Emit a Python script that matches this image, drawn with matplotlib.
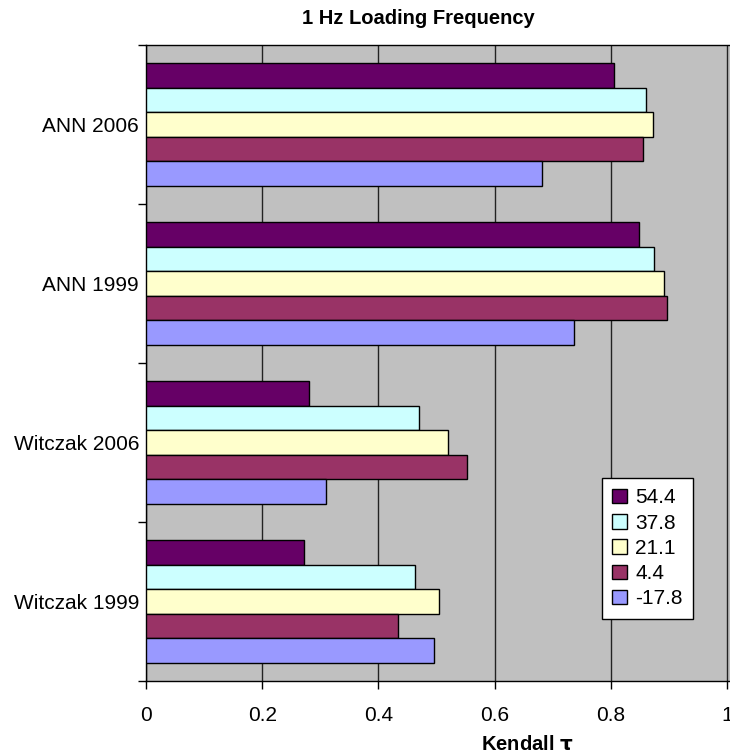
import numpy as np
import matplotlib
matplotlib.use("Agg")
from matplotlib import pyplot as plt

plt.rcParams['font.family'] = ['Liberation Sans', 'DejaVu Sans']

# data
models = ["Witczak 1999", "Witczak 2006", "ANN 1999", "ANN 2006"]
temps = ["54.4", "37.8", "21.1", "4.4", "-17.8"]
colors = ["#660066", "#CCFFFF", "#FFFFCC", "#993366", "#9999FF"]
t_544 = [0.272, 0.281, 0.849, 0.806]
t_378 = [0.463, 0.470, 0.875, 0.860]
t_211 = [0.505, 0.519, 0.892, 0.873]
t_44 = [0.433, 0.553, 0.896, 0.856]
t_m178 = [0.495, 0.310, 0.736, 0.681]
series = [t_544, t_378, t_211, t_44, t_m178]

fig = plt.figure(figsize=(7.3, 7.55), dpi=100)
ax = fig.add_axes([146/730, 1-681/755, 584/730, 636/755])
ax.set_facecolor("#C0C0C0")

y = np.arange(len(models))
h = 0.1535
for i, (vals, c, lab) in enumerate(zip(series, colors, temps)):
    off = (2 - i) * h
    ax.barh(y + off, vals, height=h, color=c, edgecolor="black", linewidth=1,
            label=lab, zorder=3)

ax.set_xlim(0, 584/581)
ax.set_ylim(-0.5, len(models) - 0.5)
ax.set_xticks(np.arange(0, 1.01, 0.2))
ax.set_xticklabels(["0", "0.2", "0.4", "0.6", "0.8", "1"])
ax.set_yticks(y)
ax.set_yticklabels(models)
ax.set_yticks(np.arange(-0.5, len(models), 1), minor=True)
ax.tick_params(axis="y", which="major", length=0, pad=5, labelsize=15)
ax.tick_params(axis="y", which="minor", length=6, direction="out", width=1)
ax.tick_params(axis="x", length=6, direction="out", width=1, pad=12, labelsize=15)
ax.xaxis.grid(True, color="#222222", linewidth=1, zorder=0)
ax.set_axisbelow(True)
for s in ["left", "bottom", "top"]:
    ax.spines[s].set_color("black")
    ax.spines[s].set_linewidth(1)
ax.spines["right"].set_visible(False)

leg = ax.legend(loc="upper left", bbox_to_anchor=(602/730, 1-478/755),
                bbox_transform=fig.transFigure, fontsize=15, frameon=True,
                fancybox=False, borderaxespad=0, handlelength=0.7,
                handleheight=0.7, handletextpad=0.4, labelspacing=0.3,
                borderpad=0.5)
leg.get_frame().set_edgecolor("black")
leg.get_frame().set_linewidth(1)
leg.get_frame().set_facecolor("white")
leg.get_frame().set_alpha(1)

fig.text(418/730, 1-18/755, "1 Hz Loading Frequency", ha="center", va="center",
         fontsize=14.5, fontweight="bold")
fig.text(527/730, 1-744/755, "Kendall $\\mathbf{\\tau}$", ha="center", va="center",
         fontsize=14.5, fontweight="bold")

fig.savefig("out.png", dpi=100)
